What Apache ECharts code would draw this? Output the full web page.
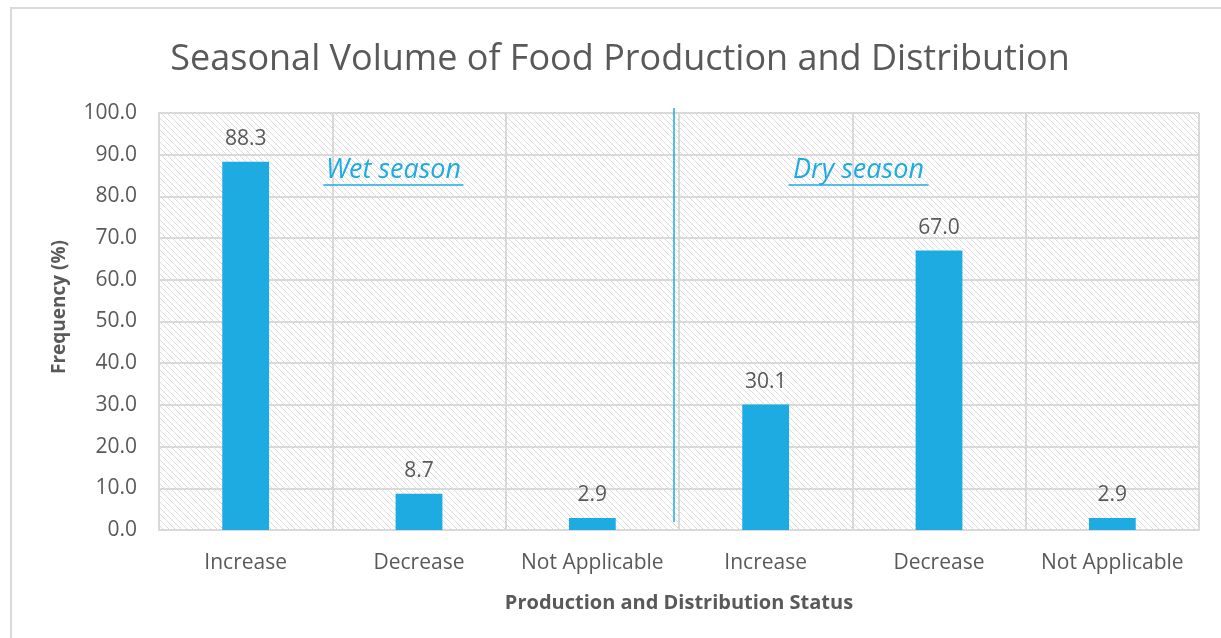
<!DOCTYPE html>
<html>
<head>
<meta charset="utf-8">
<script src="https://cdn.jsdelivr.net/npm/echarts@6/dist/echarts.min.js"></script>
<style>
  html, body { margin: 0; padding: 0; background: #fff; }
  #chart { width: 1221px; height: 638px; }
</style>
</head>
<body>
<div id="chart"></div>
<script>
// Production and distribution status, wet season then dry season
const categories = ['Increase', 'Decrease', 'Not Applicable', 'Increase', 'Decrease', 'Not Applicable'];
const frequency = [88.3, 8.7, 2.9, 30.1, 67.0, 2.9];
const seasonLabels = ['Wet season', 'Dry season'];

const TEXT = '#595959';
const BLUE = '#1DABE2';
const GRID = '#d9d9d9';
const FONT = '"Open Sans", "DejaVu Sans", sans-serif';

// Diagonal hatch used to fill the plot area
function hatch() {
  const s = 6;
  const c = document.createElement('canvas');
  c.width = s; c.height = s;
  const ctx = c.getContext('2d');
  ctx.fillStyle = '#ffffff';
  ctx.fillRect(0, 0, s, s);
  ctx.strokeStyle = '#dcdcdc';
  ctx.lineWidth = 1;
  ctx.beginPath();
  ctx.moveTo(-1, -1); ctx.lineTo(s + 1, s + 1);
  ctx.moveTo(-1, s - 1); ctx.lineTo(1, s + 1);
  ctx.moveTo(s - 1, -1); ctx.lineTo(s + 1, 1);
  ctx.stroke();
  return c;
}

const chart = echarts.init(document.getElementById('chart'), null, { renderer: 'canvas' });

// Italic, underlined season caption centred on cx
function seasonLabel(text, cx) {
  const w = 140;
  return {
    type: 'group',
    left: cx - w / 2,
    top: 157,
    z: 100,
    children: [
      {
        type: 'text',
        z: 100,
        style: {
          text: text, x: w / 2, y: 0, align: 'center', verticalAlign: 'top',
          fill: BLUE, font: 'italic 27px ' + FONT
        }
      },
      {
        type: 'line',
        z: 100,
        shape: { x1: 0, y1: 28, x2: w, y2: 28 },
        style: { stroke: BLUE, lineWidth: 1.5 }
      }
    ]
  };
}

chart.setOption({
  animation: false,
  backgroundColor: '#ffffff',
  title: {
    text: 'Seasonal Volume of Food Production and Distribution',
    left: 615, top: 37, textAlign: 'center',
    textStyle: { color: TEXT, fontFamily: FONT, fontSize: 36, fontWeight: 'normal' }
  },
  grid: {
    left: 159, right: 22, top: 113, bottom: 108,
    show: true, borderWidth: 0,
    backgroundColor: { image: hatch(), repeat: 'repeat' }
  },
  xAxis: {
    type: 'category',
    data: categories,
    name: 'Production and Distribution Status',
    nameLocation: 'middle',
    nameGap: 63,
    nameTextStyle: { color: TEXT, fontFamily: FONT, fontSize: 20, fontWeight: 'bold' },
    axisLine: { show: true, lineStyle: { color: GRID, width: 2 } },
    axisTick: { show: false },
    axisLabel: { color: TEXT, fontFamily: FONT, fontSize: 21, margin: 23, interval: 0 },
    splitLine: { show: true, interval: 0, lineStyle: { color: GRID, width: 2 } }
  },
  yAxis: {
    type: 'value',
    min: 0, max: 100, interval: 10,
    axisLine: { show: true, lineStyle: { color: GRID, width: 2 } },
    axisTick: { show: false },
    axisLabel: {
      color: TEXT, fontFamily: FONT, fontSize: 21, margin: 22,
      formatter: v => v.toFixed(1)
    },
    splitLine: { show: true, lineStyle: { color: GRID, width: 2 } }
  },
  series: [{
    type: 'bar',
    data: frequency,
    barWidth: '27%',
    itemStyle: { color: BLUE },
    label: {
      show: true, position: 'top', distance: 12,
      color: TEXT, fontFamily: FONT, fontSize: 21,
      formatter: p => p.value.toFixed(1)
    }
  }],
  graphic: [
    // page frame around the figure
    {
      type: 'rect',
      shape: { x: 11, y: 8, width: 1300, height: 700 },
      style: { fill: null, stroke: GRID, lineWidth: 2 },
      silent: true
    },
    // y axis title
    {
      type: 'text',
      x: 60, y: 307, rotation: Math.PI / 2,
      style: {
        text: 'Frequency (%)', align: 'center', verticalAlign: 'middle',
        fill: TEXT, font: 'bold 19px ' + FONT
      }
    },
    // divider between the two seasons
    {
      type: 'line',
      shape: { x1: 674, y1: 108, x2: 674, y2: 522 },
      style: { stroke: BLUE, lineWidth: 1.5 },
      z: 10
    },
    seasonLabel(seasonLabels[0], 391),
    seasonLabel(seasonLabels[1], 856)
  ]
});
</script>
</body>
</html>
